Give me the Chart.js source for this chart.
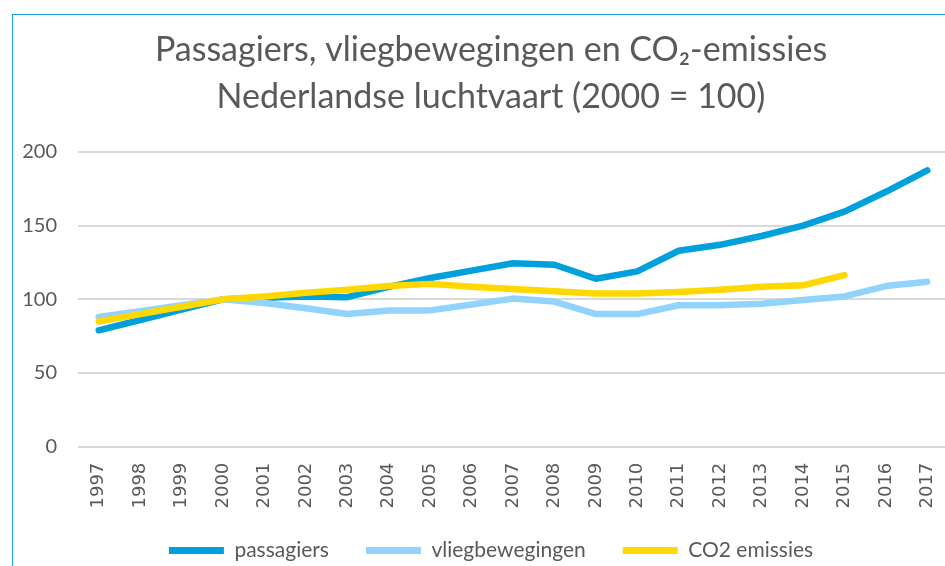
<!DOCTYPE html>
<html>
<head>
<meta charset="utf-8">
<script src="https://cdn.jsdelivr.net/npm/chart.js"></script>
<style>
  html, body { margin: 0; padding: 0; background: #fff; width: 945px; height: 566px; overflow: hidden; }
  .chart-box {
    position: absolute; left: 12px; top: 14px; width: 960px; height: 560px;
    border-left: 1px solid #1ba1e2; border-top: 1px solid #1ba1e2; overflow: hidden;
  }
  #luchtvaart-chart { position: absolute; left: 0; top: 0; }
</style>
</head>
<body>
<div class="chart-box">
  <canvas id="luchtvaart-chart" width="956" height="556"></canvas>
</div>
<script>
// jaren en indexcijfers (2000 = 100)
const years = ['1997', '1998', '1999', '2000', '2001', '2002', '2003', '2004', '2005', '2006', '2007',
               '2008', '2009', '2010', '2011', '2012', '2013', '2014', '2015', '2016', '2017'];
const passagiers = [79, 86, 93, 100, 101, 102, 101.5, 108.5, 114.5, 119.5, 124.5,
                    123.5, 114, 119, 133, 137, 143, 150, 159.5, 173, 187.5];
const vliegbewegingen = [88, 92, 96, 100, 97.5, 94, 90, 92.5, 92.5, 96.5, 100.5,
                         98.5, 90, 90, 96, 96, 97, 99.5, 102, 109, 112];
const co2Emissies = [85, 90, 95, 100, 102, 104.5, 106.5, 109, 110.5, 108.5, 107,
                     105.5, 104, 104, 105, 106.5, 108.5, 109.5, 116.5, null, null];
const yTicks = [0, 50, 100, 150, 200];

const textColor = '#595959';

// titel en legenda centreren over het hele kader (zoals Excel), niet alleen het plotgebied;
// en de jaartallen niet laten afknippen door de smalle x-as
const shiftBoxes = {
    id: 'shiftBoxes',
    afterLayout(chart) {
        const extra = chart.options.layout.padding.right;
        chart.titleBlock.right += extra;
        chart.legend.right += extra;
        chart.scales.x.bottom = chart.height;
    }
};

const ctx = document.getElementById('luchtvaart-chart').getContext('2d');
new Chart(ctx, {
    type: 'line',
    data: {
        labels: years,
        datasets: [{
            label: 'passagiers',
            data: passagiers,
            borderColor: '#00a0dc',
            backgroundColor: '#00a0dc',
            order: 3
        }, {
            label: 'vliegbewegingen',
            data: vliegbewegingen,
            borderColor: '#92d3fc',
            backgroundColor: '#92d3fc',
            order: 2
        }, {
            label: 'CO2 emissies',
            data: co2Emissies,
            borderColor: '#ffd800',
            backgroundColor: '#ffd800',
            order: 1
        }]
    },
    options: {
        responsive: false,
        animation: false,
        devicePixelRatio: 1,
        layout: { padding: { left: 0, right: 21, top: 0, bottom: 0 } },
        elements: {
            // borderWidth van de punten bepaalt de dikte van het lijntje in de legenda
            point: { radius: 0, hoverRadius: 0, borderWidth: 7 },
            line: { borderWidth: 6.5, tension: 0, borderCapStyle: 'round', borderJoinStyle: 'round', fill: false }
        },
        scales: {
            x: {
                offset: true,
                grid: { display: false, drawTicks: false },
                border: { display: false },
                ticks: {
                    color: textColor,
                    font: { family: 'DejaVu Sans', size: 18 },
                    minRotation: 90,
                    maxRotation: 90,
                    padding: 16,
                    autoSkip: false
                },
                afterFit(scale) { scale.height = 56.3; }
            },
            y: {
                min: 0,
                max: 200,
                afterBuildTicks(scale) { scale.ticks = yTicks.map(v => ({ value: v })); },
                grid: { color: '#d9d9d9', lineWidth: 2, drawTicks: false },
                border: { display: false },
                ticks: {
                    color: textColor,
                    font: { family: 'Lato', size: 20 },
                    padding: 21
                },
                afterFit(scale) { scale.width = 65; }
            }
        },
        plugins: {
            title: {
                display: true,
                text: ['Passagiers, vliegbewegingen en CO\u2082-emissies', 'Nederlandse luchtvaart (2000 = 100)'],
                color: textColor,
                font: { family: 'Lato', size: 34, weight: 'normal', lineHeight: 47 / 34 },
                padding: { top: 11.5, bottom: 31.5 }
            },
            legend: {
                position: 'bottom',
                labels: {
                    color: textColor,
                    font: { family: 'Lato', size: 21 },
                    usePointStyle: true,
                    pointStyle: 'line',
                    pointStyleWidth: 55,
                    padding: 37,
                    sort: (a, b) => a.datasetIndex - b.datasetIndex
                }
            },
            tooltip: { enabled: false }
        }
    },
    plugins: [shiftBoxes]
});
</script>
</body>
</html>
